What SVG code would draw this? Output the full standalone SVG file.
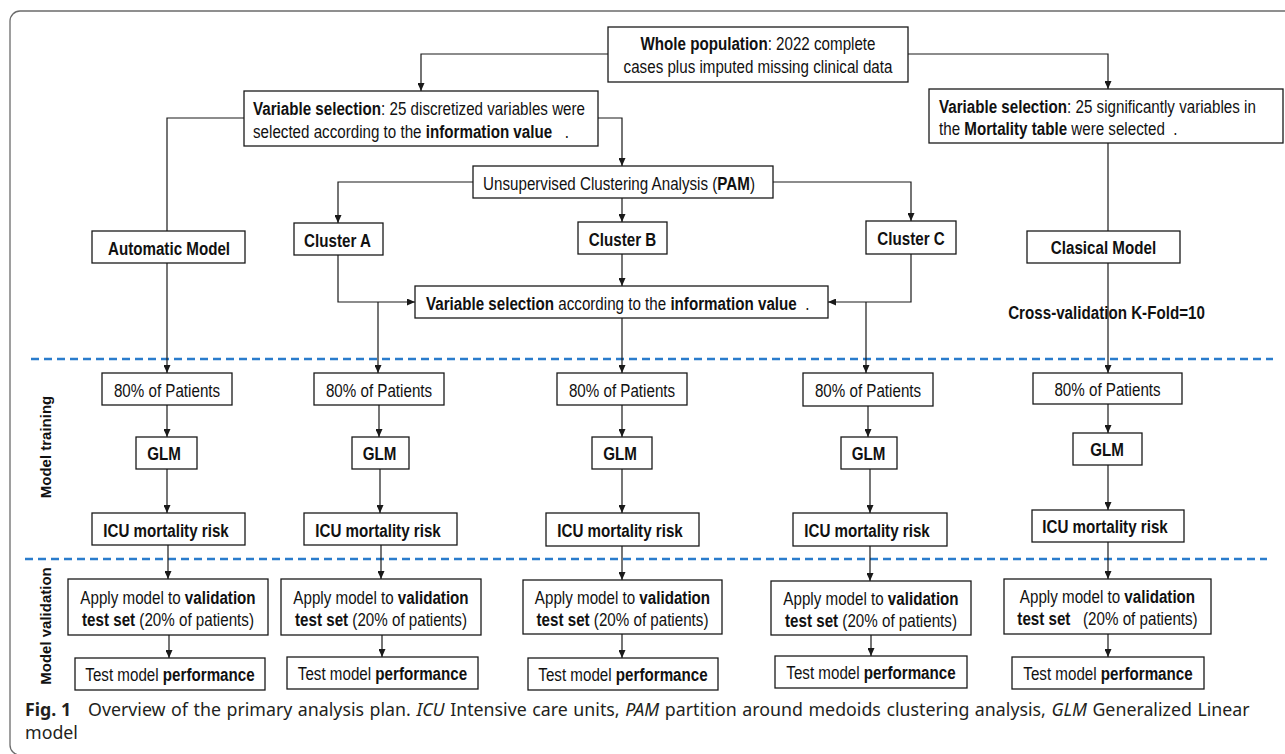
<svg xmlns="http://www.w3.org/2000/svg" width="1285" height="754" viewBox="0 0 1285 754">
<style>
.frame{fill:none;stroke:#6b6b6b;stroke-width:1.3}
.box{fill:#fff;stroke:#1a1a1a;stroke-width:1.3}
.t{font-family:"Liberation Sans",Arial,sans-serif;font-size:18.5px;fill:#111}
.m{text-anchor:middle}
.b{font-weight:bold}
.conn path{fill:none;stroke:#1a1a1a;stroke-width:1.2}
.dash{fill:none;stroke:#2a7ccc;stroke-width:2.5;stroke-dasharray:8 5}
.side{font-family:"Liberation Sans",Arial,sans-serif;font-weight:bold;font-size:15px;fill:#111;text-anchor:middle}
.cap{font-family:"Noto Sans","Open Sans",sans-serif;font-size:17.8px;fill:#231f20}
.i{font-style:italic}
</style>
<defs>
<marker id="ah" markerUnits="userSpaceOnUse" markerWidth="8" markerHeight="7" refX="8" refY="3.5" orient="auto">
<path d="M0,0 L8,3.5 L0,7 z" fill="#1a1a1a"/>
</marker>
</defs>
<rect class="frame" x="10" y="11" width="1290" height="744" rx="10"/>
<g id="phase-lines">
<line class="dash" x1="31" y1="359" x2="1273" y2="359"/>
<line class="dash" x1="25" y1="559" x2="1267" y2="559"/>
<text class="side" transform="translate(50.5,447) rotate(-90)">Model training</text>
<text class="side" transform="translate(50.5,626) rotate(-90)">Model validation</text>
</g>
<g id="cv-label">
<text class="t b m" transform="translate(1106.5,319) scale(0.82,1)">Cross-validation K-Fold=10</text>
</g>
<g class="conn" id="connectors">
<path d="M608,54 H421 V91" marker-end="url(#ah)"/>
<path d="M908,54 H1108 V89" marker-end="url(#ah)"/>
<path d="M244,118 H167 V231"/>
<path d="M598,118 H622 V166" marker-end="url(#ah)"/>
<path d="M473,182 H338 V223" marker-end="url(#ah)"/>
<path d="M622,198 V222" marker-end="url(#ah)"/>
<path d="M773,182 H911 V221" marker-end="url(#ah)"/>
<path d="M1108,143 V231"/>
<path d="M167,263 V373" marker-end="url(#ah)"/>
<path d="M338,255 V302 H415" marker-end="url(#ah)"/>
<path d="M378,302 V373" marker-end="url(#ah)"/>
<path d="M622,254 V286" marker-end="url(#ah)"/>
<path d="M911,254 V302 H828" marker-end="url(#ah)"/>
<path d="M866,302 V373" marker-end="url(#ah)"/>
<path d="M622,318 V373" marker-end="url(#ah)"/>
<path d="M1108,263 V373" marker-end="url(#ah)"/>
<path d="M167,405 V437" marker-end="url(#ah)"/>
<path d="M167,469 V513" marker-end="url(#ah)"/>
<path d="M168,545 V579" marker-end="url(#ah)"/>
<path d="M169,635 V658" marker-end="url(#ah)"/>
<path d="M379,405 V437" marker-end="url(#ah)"/>
<path d="M380,469 V513" marker-end="url(#ah)"/>
<path d="M381,545 V579" marker-end="url(#ah)"/>
<path d="M382,635 V657" marker-end="url(#ah)"/>
<path d="M622,405 V437" marker-end="url(#ah)"/>
<path d="M622,469 V513" marker-end="url(#ah)"/>
<path d="M622,546 V580" marker-end="url(#ah)"/>
<path d="M622,634 V658" marker-end="url(#ah)"/>
<path d="M868,406 V437" marker-end="url(#ah)"/>
<path d="M870,469 V513" marker-end="url(#ah)"/>
<path d="M870,546 V581" marker-end="url(#ah)"/>
<path d="M871,635 V656" marker-end="url(#ah)"/>
<path d="M1108,404 V433" marker-end="url(#ah)"/>
<path d="M1108,465 V510" marker-end="url(#ah)"/>
<path d="M1108,542 V579" marker-end="url(#ah)"/>
<path d="M1108,634 V657" marker-end="url(#ah)"/>
</g>
<g id="n-whole">
<rect class="box" x="608" y="27" width="300" height="55"/>
<text class="t m" transform="translate(758,50) scale(0.82,1)"><tspan class="b">Whole population</tspan>: 2022 complete</text>
<text class="t m" transform="translate(758,73) scale(0.82,1)">cases plus imputed missing clinical data</text>
</g>
<g id="n-varsel1">
<rect class="box" x="244" y="91" width="354" height="55"/>
<text class="t" transform="translate(253,115) scale(0.82,1)"><tspan class="b">Variable selection</tspan>: 25 discretized variables were</text>
<text class="t" transform="translate(253,138) scale(0.82,1)">selected according to the <tspan class="b">information value</tspan>&#160;&#160; .</text>
</g>
<g id="n-varsel3">
<rect class="box" x="929" y="89" width="354" height="54"/>
<text class="t" transform="translate(939,112.5) scale(0.82,1)"><tspan class="b">Variable selection</tspan>: 25 significantly variables in</text>
<text class="t" transform="translate(939,134.5) scale(0.82,1)">the <tspan class="b">Mortality table</tspan> were selected&#160; .</text>
</g>
<g id="n-pam">
<rect class="box" x="473" y="166" width="300" height="32"/>
<text class="t m" transform="translate(619,189.5) scale(0.82,1)">Unsupervised Clustering Analysis (<tspan class="b">PAM</tspan>)</text>
</g>
<g id="n-auto">
<rect class="box" x="92" y="231" width="153" height="32"/>
<text class="t b m" transform="translate(169,254.5) scale(0.82,1)">Automatic Model</text>
</g>
<g id="n-clA">
<rect class="box" x="294" y="223" width="89" height="32"/>
<text class="t b m" transform="translate(337.5,246.5) scale(0.82,1)">Cluster A</text>
</g>
<g id="n-clB">
<rect class="box" x="578" y="222" width="89" height="32"/>
<text class="t b m" transform="translate(622.5,245.5) scale(0.82,1)">Cluster B</text>
</g>
<g id="n-clC">
<rect class="box" x="866" y="221" width="90" height="33"/>
<text class="t b m" transform="translate(911,244.5) scale(0.82,1)">Cluster C</text>
</g>
<g id="n-clasical">
<rect class="box" x="1027" y="231" width="153" height="32"/>
<text class="t b m" transform="translate(1103.5,254.3) scale(0.82,1)">Clasical Model</text>
</g>
<g id="n-varsel2">
<rect class="box" x="415" y="286" width="413" height="32"/>
<text class="t" transform="translate(426,309.5) scale(0.82,1)"><tspan class="b">Variable selection</tspan> according to the <tspan class="b">information value</tspan>&#160; .</text>
</g>
<g id="n-train1">
<rect class="box" x="102" y="373" width="130" height="32"/>
<text class="t m" transform="translate(167,396.5) scale(0.82,1)">80% of Patients</text>
</g>
<g id="n-train2">
<rect class="box" x="314" y="373" width="130" height="32"/>
<text class="t m" transform="translate(379,396.5) scale(0.82,1)">80% of Patients</text>
</g>
<g id="n-train3">
<rect class="box" x="557" y="373" width="130" height="32"/>
<text class="t m" transform="translate(622,396.5) scale(0.82,1)">80% of Patients</text>
</g>
<g id="n-train4">
<rect class="box" x="803" y="373" width="130" height="33"/>
<text class="t m" transform="translate(868,397) scale(0.82,1)">80% of Patients</text>
</g>
<g id="n-train5">
<rect class="box" x="1033" y="373" width="149" height="31"/>
<text class="t m" transform="translate(1107.5,396) scale(0.82,1)">80% of Patients</text>
</g>
<g id="n-glm1">
<rect class="box" x="136" y="437" width="61" height="32"/>
<text class="t b m" transform="translate(164,459.5) scale(0.82,1)">GLM</text>
</g>
<g id="n-glm2">
<rect class="box" x="352" y="437" width="57" height="32"/>
<text class="t b m" transform="translate(379.5,459.5) scale(0.82,1)">GLM</text>
</g>
<g id="n-glm3">
<rect class="box" x="592" y="437" width="60" height="32"/>
<text class="t b m" transform="translate(620,459.5) scale(0.82,1)">GLM</text>
</g>
<g id="n-glm4">
<rect class="box" x="841" y="437" width="56" height="32"/>
<text class="t b m" transform="translate(868.5,459.5) scale(0.82,1)">GLM</text>
</g>
<g id="n-glm5">
<rect class="box" x="1073" y="433" width="69" height="32"/>
<text class="t b m" transform="translate(1107,455.5) scale(0.82,1)">GLM</text>
</g>
<g id="n-icu1">
<rect class="box" x="92" y="513" width="153" height="32"/>
<text class="t b m" transform="translate(166,536.5) scale(0.82,1)">ICU mortality risk</text>
</g>
<g id="n-icu2">
<rect class="box" x="304" y="513" width="153" height="32"/>
<text class="t b m" transform="translate(378,536.5) scale(0.82,1)">ICU mortality risk</text>
</g>
<g id="n-icu3">
<rect class="box" x="546" y="513" width="153" height="33"/>
<text class="t b m" transform="translate(620,537) scale(0.82,1)">ICU mortality risk</text>
</g>
<g id="n-icu4">
<rect class="box" x="793" y="513" width="154" height="33"/>
<text class="t b m" transform="translate(867,537) scale(0.82,1)">ICU mortality risk</text>
</g>
<g id="n-icu5">
<rect class="box" x="1032" y="510" width="152" height="32"/>
<text class="t b m" transform="translate(1105,533) scale(0.82,1)">ICU mortality risk</text>
</g>
<g id="n-apply1">
<rect class="box" x="68" y="579" width="200" height="56"/>
<text class="t m" transform="translate(168,603.5) scale(0.82,1)">Apply model to <tspan class="b">validation</tspan></text>
<text class="t m" transform="translate(168,625.5) scale(0.82,1)"><tspan class="b">test set</tspan> (20% of patients)</text>
</g>
<g id="n-apply2">
<rect class="box" x="281" y="579" width="200" height="56"/>
<text class="t m" transform="translate(381,603.5) scale(0.82,1)">Apply model to <tspan class="b">validation</tspan></text>
<text class="t m" transform="translate(381,625.5) scale(0.82,1)"><tspan class="b">test set</tspan> (20% of patients)</text>
</g>
<g id="n-apply3">
<rect class="box" x="523" y="580" width="199" height="54"/>
<text class="t m" transform="translate(622.5,603.5) scale(0.82,1)">Apply model to <tspan class="b">validation</tspan></text>
<text class="t m" transform="translate(622.5,625.5) scale(0.82,1)"><tspan class="b">test set</tspan> (20% of patients)</text>
</g>
<g id="n-apply4">
<rect class="box" x="771" y="581" width="200" height="54"/>
<text class="t m" transform="translate(871,604.5) scale(0.82,1)">Apply model to <tspan class="b">validation</tspan></text>
<text class="t m" transform="translate(871,626.5) scale(0.82,1)"><tspan class="b">test set</tspan> (20% of patients)</text>
</g>
<g id="n-apply5">
<rect class="box" x="1004" y="579" width="207" height="55"/>
<text class="t m" transform="translate(1107.5,603) scale(0.82,1)">Apply model to <tspan class="b">validation</tspan></text>
<text class="t m" transform="translate(1107.5,625) scale(0.82,1)"><tspan class="b">test set</tspan>&#160;&#160; (20% of patients)</text>
</g>
<g id="n-test1">
<rect class="box" x="75" y="658" width="190" height="32"/>
<text class="t m" transform="translate(170,681) scale(0.82,1)">Test model <tspan class="b">performance</tspan></text>
</g>
<g id="n-test2">
<rect class="box" x="287" y="657" width="191" height="32"/>
<text class="t m" transform="translate(382.5,680) scale(0.82,1)">Test model <tspan class="b">performance</tspan></text>
</g>
<g id="n-test3">
<rect class="box" x="528" y="658" width="190" height="32"/>
<text class="t m" transform="translate(623,681) scale(0.82,1)">Test model <tspan class="b">performance</tspan></text>
</g>
<g id="n-test4">
<rect class="box" x="775" y="656" width="192" height="32"/>
<text class="t m" transform="translate(871,679) scale(0.82,1)">Test model <tspan class="b">performance</tspan></text>
</g>
<g id="n-test5">
<rect class="box" x="1012" y="657" width="192" height="32"/>
<text class="t m" transform="translate(1108,680) scale(0.82,1)">Test model <tspan class="b">performance</tspan></text>
</g>
<g id="caption">
<text class="cap" x="25" y="716" font-weight="bold" font-size="18">Fig. 1</text>
<text class="cap" x="88" y="716" word-spacing="0.9">Overview of the primary analysis plan. <tspan class="i">ICU</tspan> Intensive care units, <tspan class="i">PAM</tspan> partition around medoids clustering analysis, <tspan class="i">GLM</tspan> Generalized Linear</text>
<text class="cap" x="25" y="739">model</text>
</g>
</svg>
